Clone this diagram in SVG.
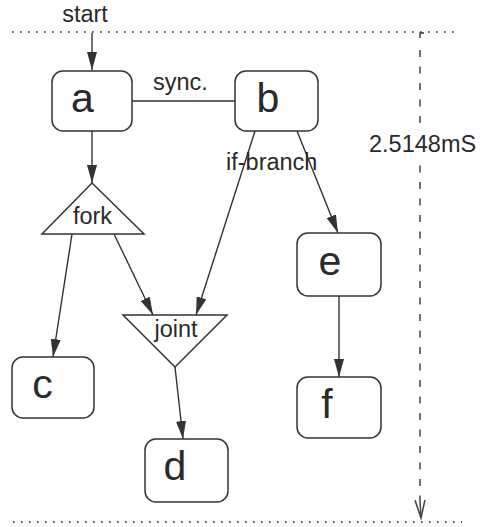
<svg xmlns="http://www.w3.org/2000/svg" width="483" height="527" viewBox="0 0 483 527">
  <style>
    .box { fill: #fff; stroke: #333; stroke-width: 1.5; }
    .tri { fill: #fff; stroke: #333; stroke-width: 1.5; stroke-linejoin: miter; }
    .big { font-family: "Liberation Sans", Arial, sans-serif; font-size: 41px; fill: #2a2a2a; text-anchor: middle; }
    .lbl { font-family: "Liberation Sans", Arial, sans-serif; font-size: 23.5px; fill: #2a2a2a; }
    .edge { stroke: #333; stroke-width: 1.4; fill: none; marker-end: url(#arrow); }
    .plain { stroke: #333; stroke-width: 1.4; fill: none; }
    .dots { stroke: #555; stroke-width: 1.8; stroke-dasharray: 1.6 6.4; fill: none; }
    .dash { stroke: #444; stroke-width: 1.5; stroke-dasharray: 7 9.5; fill: none; }
  </style>
  <defs>
    <marker id="arrow" markerUnits="userSpaceOnUse" markerWidth="18" markerHeight="10" refX="18" refY="5" orient="auto">
      <path d="M0,0 L18,5 L0,10 Z" fill="#333"/>
    </marker>
    <marker id="open" markerUnits="userSpaceOnUse" markerWidth="20" markerHeight="12" refX="18" refY="6" orient="auto">
      <path d="M0,1 L18,6 L0,11" fill="none" stroke="#444" stroke-width="1.5"/>
    </marker>
  </defs>

  <rect width="483" height="527" fill="#fff"/>

  <!-- time-frame boundaries and duration -->
  <g id="frame">
    <line class="dots" x1="12" y1="32" x2="460" y2="32"/>
    <line class="dots" x1="13" y1="522" x2="462" y2="522"/>
    <path d="M420,38 L420,33 L424,33" class="plain" stroke="#444"/>
    <line class="dash" x1="420" y1="50" x2="420" y2="500"/>
    <line x1="420" y1="500" x2="421" y2="518" stroke="#444" stroke-width="1.5" marker-end="url(#open)"/>
    <rect x="367" y="132" width="112" height="26" fill="#fff"/>
    <text class="lbl" x="369" y="152">2.5148mS</text>
  </g>

  <!-- connectors -->
  <g id="connectors">
    <line class="edge" x1="92" y1="33" x2="92" y2="70"/>
    <line class="edge" x1="92" y1="131" x2="92" y2="183"/>
    <line class="plain" x1="132" y1="101" x2="235" y2="101"/>
    <line class="edge" x1="255" y1="131" x2="196" y2="315"/>
    <line class="edge" x1="297" y1="131" x2="338" y2="233"/>
    <line class="edge" x1="72" y1="234" x2="53" y2="357"/>
    <line class="edge" x1="114" y1="234" x2="153" y2="315"/>
    <line class="edge" x1="175" y1="367" x2="183" y2="439"/>
    <line class="edge" x1="339" y1="296" x2="339" y2="377"/>
    <text class="lbl" x="85" y="22" text-anchor="middle">start</text>
    <text class="lbl" x="153" y="90">sync.</text>
    <text class="lbl" x="226" y="170">if-branch</text>
  </g>

  <g id="node-a">
    <rect class="box" x="52" y="71" width="80" height="60" rx="11"/>
    <text class="big" x="82.5" y="112">a</text>
  </g>
  <g id="node-b">
    <rect class="box" x="235" y="71" width="83" height="60" rx="11"/>
    <text class="big" x="268" y="112">b</text>
  </g>
  <g id="node-fork">
    <polygon class="tri" points="92,183 144,234 42,234"/>
    <text class="lbl" x="92.5" y="224" text-anchor="middle">fork</text>
  </g>
  <g id="node-joint">
    <polygon class="tri" points="123,315 227,315 175,367"/>
    <text class="lbl" x="176" y="337" text-anchor="middle">joint</text>
  </g>
  <g id="node-c">
    <rect class="box" x="12" y="357" width="82" height="61" rx="11"/>
    <text class="big" x="42.5" y="398">c</text>
  </g>
  <g id="node-d">
    <rect class="box" x="145" y="439" width="83" height="63" rx="11"/>
    <text class="big" x="175" y="480">d</text>
  </g>
  <g id="node-e">
    <rect class="box" x="297" y="233" width="84" height="63" rx="11"/>
    <text class="big" x="330" y="275">e</text>
  </g>
  <g id="node-f">
    <rect class="box" x="297" y="377" width="84" height="61" rx="11"/>
    <text class="big" x="327" y="418">f</text>
  </g>
</svg>
